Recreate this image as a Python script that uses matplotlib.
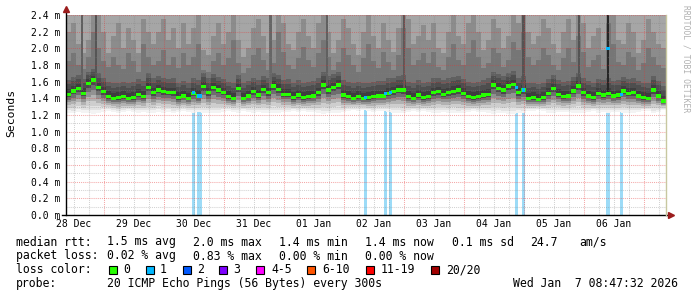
import numpy as np
import matplotlib.pyplot as plt
from matplotlib.patches import Rectangle

plt.rcParams['font.family'] = ['DejaVu Sans Mono', 'DejaVu Sans']

W, H = 697, 297

# x axis in hours after 28 Dec 00:00; the graph covers 10 days ending Jan 7 08:47:32
T_START = 8 + 47.5 / 60
T_END = T_START + 240
BIN_H = 2.0

# median rtt per 2 h bin (ms)
median_ms = [
    1.45, 1.49, 1.52, 1.46, 1.58, 1.62, 1.53, 1.48, 1.42, 1.40, 1.41, 1.42,
    1.40, 1.41, 1.45, 1.42, 1.53, 1.47, 1.50, 1.48, 1.47, 1.47, 1.41, 1.43,
    1.40, 1.46, 1.43, 1.54, 1.47, 1.53, 1.50, 1.47, 1.42, 1.40, 1.52, 1.40,
    1.43, 1.48, 1.44, 1.51, 1.47, 1.55, 1.51, 1.45, 1.45, 1.41, 1.44, 1.41,
    1.42, 1.43, 1.47, 1.56, 1.50, 1.53, 1.56, 1.44, 1.42, 1.40, 1.42, 1.40,
    1.41, 1.42, 1.43, 1.43, 1.46, 1.48, 1.50, 1.50, 1.42, 1.40, 1.44, 1.41,
    1.42, 1.47, 1.48, 1.45, 1.47, 1.48, 1.50, 1.46, 1.42, 1.41, 1.42, 1.44,
    1.45, 1.56, 1.52, 1.50, 1.55, 1.57, 1.47, 1.50, 1.40, 1.41, 1.39, 1.41,
    1.46, 1.52, 1.45, 1.42, 1.43, 1.49, 1.55, 1.47, 1.43, 1.41, 1.46, 1.44,
    1.46, 1.43, 1.44, 1.49, 1.46, 1.47, 1.43, 1.41, 1.40, 1.50, 1.43, 1.37,
]

# smoke: lowest ping, top of dark core, top of mid grey, top of grey (ms)
smoke_lo = [
    1.23, 1.22, 1.24, 1.23, 1.22, 1.21, 1.23, 1.24, 1.25, 1.24, 1.23, 1.24,
    1.25, 1.24, 1.23, 1.24, 1.22, 1.23, 1.24, 1.23, 1.24, 1.22, 1.24, 1.25,
    1.24, 1.23, 1.24, 1.22, 1.23, 1.22, 1.23, 1.24, 1.25, 1.24, 1.22, 1.25,
    1.24, 1.23, 1.24, 1.22, 1.23, 1.22, 1.23, 1.24, 1.24, 1.25, 1.24, 1.25,
    1.24, 1.24, 1.23, 1.21, 1.22, 1.22, 1.22, 1.24, 1.25, 1.26, 1.25, 1.26,
    1.25, 1.24, 1.25, 1.25, 1.24, 1.23, 1.23, 1.22, 1.24, 1.25, 1.24, 1.25,
    1.24, 1.23, 1.23, 1.24, 1.23, 1.23, 1.22, 1.23, 1.24, 1.25, 1.24, 1.24,
    1.23, 1.21, 1.22, 1.22, 1.21, 1.21, 1.23, 1.22, 1.25, 1.25, 1.26, 1.25,
    1.23, 1.22, 1.24, 1.24, 1.24, 1.23, 1.22, 1.23, 1.24, 1.25, 1.23, 1.24,
    1.23, 1.24, 1.24, 1.23, 1.23, 1.23, 1.24, 1.25, 1.25, 1.22, 1.24, 1.26,
]
smoke_hi1 = [
    1.62, 1.66, 1.68, 1.63, 1.72, 1.75, 1.70, 1.64, 1.60, 1.58, 1.59, 1.60,
    1.58, 1.60, 1.63, 1.61, 1.70, 1.64, 1.67, 1.65, 1.63, 1.64, 1.59, 1.61,
    1.58, 1.64, 1.62, 1.70, 1.64, 1.69, 1.66, 1.63, 1.60, 1.58, 1.68, 1.58,
    1.61, 1.65, 1.62, 1.67, 1.64, 1.71, 1.68, 1.62, 1.63, 1.59, 1.62, 1.59,
    1.60, 1.61, 1.64, 1.72, 1.67, 1.69, 1.72, 1.62, 1.60, 1.58, 1.60, 1.58,
    1.59, 1.60, 1.61, 1.61, 1.64, 1.65, 1.67, 1.68, 1.60, 1.58, 1.62, 1.59,
    1.60, 1.64, 1.65, 1.62, 1.64, 1.66, 1.67, 1.63, 1.60, 1.59, 1.60, 1.62,
    1.64, 1.72, 1.69, 1.67, 1.71, 1.73, 1.64, 1.67, 1.58, 1.59, 1.57, 1.59,
    1.63, 1.68, 1.62, 1.60, 1.61, 1.66, 1.71, 1.64, 1.61, 1.59, 1.63, 1.62,
    1.64, 1.61, 1.62, 1.66, 1.63, 1.64, 1.61, 1.59, 1.58, 1.67, 1.61, 1.55,
]
smoke_hi2 = [
    1.85, 1.95, 1.80, 1.75, 1.90, 2.20, 2.00, 1.85, 1.78, 1.90, 1.80, 1.75,
    1.95, 1.85, 1.72, 2.05, 1.90, 1.80, 1.85, 1.98, 1.80, 1.90, 1.76, 1.95,
    1.80, 1.90, 2.05, 1.74, 1.72, 1.85, 1.95, 1.80, 1.88, 2.10, 1.82, 1.70,
    1.76, 1.92, 2.00, 1.86, 1.74, 1.82, 2.20, 1.96, 1.80, 1.75, 1.88, 2.02,
    1.86, 1.78, 1.95, 2.10, 1.90, 1.74, 1.84, 2.00, 1.92, 1.80, 1.72, 1.88,
    2.05, 1.85, 1.76, 1.96, 1.84, 1.74, 1.92, 2.25, 2.00, 1.80, 1.86, 1.94,
    1.82, 1.96, 1.78, 1.74, 1.90, 2.05, 1.86, 1.80, 1.95, 2.10, 1.90, 1.76,
    1.82, 2.00, 1.94, 1.78, 1.86, 2.08, 1.98, 2.20, 1.90, 1.80, 1.86, 2.00,
    1.92, 1.80, 1.74, 1.88, 2.00, 1.84, 2.15, 1.96, 1.78, 1.86, 1.92, 1.75,
    2.30, 2.05, 1.84, 1.80, 1.96, 1.90, 1.74, 1.82, 2.00, 1.90, 1.80, 1.76,
]
smoke_hi3 = [
    2.20, 2.30, 2.05, 1.95, 2.10, 2.50, 2.45, 2.20, 1.95, 2.15, 2.30, 2.00,
    2.25, 2.10, 1.95, 2.35, 2.20, 2.05, 2.20, 2.35, 2.10, 2.25, 2.00, 2.30,
    2.05, 2.25, 2.40, 1.98, 1.92, 2.15, 2.30, 2.05, 2.20, 2.45, 2.10, 1.90,
    2.00, 2.25, 2.35, 2.15, 1.95, 2.10, 2.50, 2.30, 2.05, 1.98, 2.20, 2.35,
    2.15, 2.00, 2.30, 2.45, 2.20, 1.95, 2.10, 2.35, 2.25, 2.05, 1.92, 2.20,
    2.40, 2.15, 2.00, 2.30, 2.10, 1.96, 2.25, 2.50, 2.35, 2.05, 2.15, 2.28,
    2.10, 2.30, 2.00, 1.95, 2.20, 2.40, 2.15, 2.05, 2.30, 2.45, 2.20, 1.98,
    2.10, 2.35, 2.25, 2.00, 2.15, 2.40, 2.30, 2.50, 2.20, 2.05, 2.15, 2.35,
    2.25, 2.05, 1.95, 2.20, 2.35, 2.10, 2.45, 2.30, 2.00, 2.15, 2.25, 1.98,
    2.50, 2.40, 2.10, 2.05, 2.30, 2.20, 1.95, 2.10, 2.35, 2.20, 2.05, 2.00,
]

# narrow dark smoke columns (hours after graph start)
dark_at = [6.4, 12.0, 81.8, 104.4, 135.2, 183.0, 205.2, 216.8]
dark_from = [1.50, 1.55, 1.52, 1.55, 1.48, 1.50, 1.50, 1.45]
dark_color = ['#606060', '#555555', '#666666', '#606060', '#5a5a5a',
              '#545454', '#545454', '#262626']

# hours with 1/20 packet loss (hours after graph start)
loss_at = [51.0, 53.4, 120.0, 128.0, 129.8, 180.0, 183.0, 216.8, 222.0]
loss_dur = [1.3, 2.0, 1.2, 1.2, 1.3, 1.2, 1.4, 1.5, 1.2]
loss_median = [1.47, 1.43, 1.41, 1.46, 1.47, 1.53, 1.50, 2.00, 1.45]

day_labels = ['28 Dec', '29 Dec', '30 Dec', '31 Dec', '01 Jan',
              '02 Jan', '03 Jan', '04 Jan', '05 Jan', '06 Jan']
y_ticks = [0.0, 0.2, 0.4, 0.6, 0.8, 1.0, 1.2, 1.4, 1.6, 1.8, 2.0, 2.2, 2.4]

loss_names = ['0', '1', '2', '3', '4-5', '6-10', '11-19', '20/20']
loss_colors = ['#26ff00', '#00b8ff', '#0059ff', '#7e00ff',
               '#ff00ff', '#ff5500', '#ff0000', '#a10000']


def fx(px):
    return px / W


def fy(py):
    return 1 - py / H


fig = plt.figure(figsize=(W / 100, H / 100), dpi=100)
fig.patch.set_facecolor('white')
ax = fig.add_axes([fx(66), fy(215), 600 / W, 200 / H])
ax.set_xlim(T_START, T_END)
ax.set_ylim(0, 2.4)
for s in ax.spines.values():
    s.set_visible(False)

med = np.array(median_ms)
lo = np.array(smoke_lo)
hi1 = np.array(smoke_hi1)
edges = T_START + BIN_H * np.arange(len(med) + 1)


def band(y1, y2, color, z=2):
    y1 = np.append(y1, y1[-1])
    y2 = np.append(y2, y2[-1])
    ax.fill_between(edges, y1, y2, step='post', color=color, lw=0,
                    antialiased=False, zorder=z)


# loss background bars
ax.bar(T_START + np.array(loss_at), 2.4, width=loss_dur, color='#9cdbf7',
       lw=0, antialiased=False, zorder=1)

# lower half of the smoke: shading from lowest ping up to the median
fracs = [0.0, 0.12, 0.25, 0.4, 0.55, 0.7, 0.85, 1.0]
low_cols = ['#f3f3f3', '#e3e3e3', '#cecece', '#b2b2b2', '#929292',
            '#6e6e6e', '#4a4a4a']
for i, c in enumerate(low_cols):
    band(lo + fracs[i] * (med - lo), lo + fracs[i + 1] * (med - lo), c)

# upper half of the smoke
up_fracs = [0.0, 0.35, 0.7, 1.0]
up_cols = ['#3e3e3e', '#4e4e4e', '#606060']
for i, c in enumerate(up_cols):
    band(med + up_fracs[i] * (hi1 - med), med + up_fracs[i + 1] * (hi1 - med), c)
band(hi1, np.array(smoke_hi2), '#767676')
band(np.array(smoke_hi2), np.array(smoke_hi3), '#8c8c8c')
band(np.array(smoke_hi3), np.full(len(med), 2.5), '#a6a6a6')

for h, y0, c in zip(dark_at, dark_from, dark_color):
    ax.bar(T_START + h, 2.5 - y0, bottom=y0, width=1.0, color=c, lw=0,
           antialiased=False, zorder=2.5)

# grid, drawn over the smoke
minor_c = (0.5, 0.5, 0.5, 0.35)
major_c = (0.9, 0.2, 0.2, 0.42)
dots = (0, (1, 1))
for v in np.arange(0.1, 2.41, 0.1):
    major = abs(v / 0.2 - round(v / 0.2)) < 1e-6
    ax.axhline(v, color=major_c if major else minor_c, lw=0.75, ls=dots,
               zorder=3)
for h in range(12, 249, 6):
    ax.axvline(h, color=major_c if h % 24 == 0 else minor_c, lw=0.75,
               ls=dots, zorder=3)

# median rtt, coloured by loss
band(med - 0.02, med + 0.02, loss_colors[0], z=4)
for h, d, m in zip(loss_at, loss_dur, loss_median):
    ax.bar(T_START + h, 0.04, bottom=m - 0.02, width=d, color=loss_colors[1],
           lw=0, antialiased=False, zorder=4.5)

# axes, arrows
ax.plot([-0.006, 1.006], [0, 0], color='black', lw=1, transform=ax.transAxes,
        clip_on=False, zorder=6)
ax.plot([0, 0], [0, 1.02], color='black', lw=1, transform=ax.transAxes,
        clip_on=False, zorder=6)
ax.plot([1, 1], [0, 1], color='#c8c8a0', lw=1, transform=ax.transAxes,
        clip_on=False, zorder=6)
ax.plot(1.008, 0, marker='>', ms=4.5, color='#9b1c1c', mec='#9b1c1c',
        transform=ax.transAxes, clip_on=False, zorder=7)
ax.plot(0, 1.03, marker='^', ms=4.5, color='#9b1c1c', mec='#9b1c1c',
        transform=ax.transAxes, clip_on=False, zorder=7)

ax.set_yticks(y_ticks)
ax.set_yticklabels(['%.1f m' % v for v in y_ticks])
ax.set_xticks([12 + 24 * i for i in range(len(day_labels))])
ax.set_xticklabels(day_labels)
ax.tick_params(axis='y', length=0, labelsize=7, pad=4.3)
ax.tick_params(axis='x', length=0, labelsize=7, pad=3)

fig.text(fx(11), fy(113), 'Seconds', rotation=90, ha='center', va='center',
         fontsize=8.2)
fig.text(fx(686), fy(59), 'RRDTOOL / TOBI OETIKER', rotation=270,
         ha='center', va='center', fontsize=5.8, color='#b0b0b0')

# legend block
fs = 8.3
rows = [
    (245.5, [(16, 'median rtt:'), (107, '1.5 ms avg'), (193, '2.0 ms max'),
             (279, '1.4 ms min'), (365, '1.4 ms now'), (452, '0.1 ms sd'),
             (530, '24.7'), (579, 'am/s')]),
    (259.5, [(16, 'packet loss:'), (107, '0.02 % avg'), (193, '0.83 % max'),
             (279, '0.00 % min'), (365, '0.00 % now')]),
    (273.2, [(16, 'loss color:')]),
    (286.8, [(16, 'probe:'), (107, '20 ICMP Echo Pings (56 Bytes) every 300s'),
             (513, 'Wed Jan  7 08:47:32 2026')]),
]
for yb, items in rows:
    for xp, s in items:
        fig.text(fx(xp), fy(yb), s, fontsize=fs, va='baseline', ha='left')

sw_x = [109, 146, 183, 219, 256, 307, 366, 431]
lab_x = [123, 160, 197, 233, 271, 322, 381, 446]
for sx, lx, name, c in zip(sw_x, lab_x, loss_names, loss_colors):
    fig.add_artist(Rectangle((fx(sx), fy(273.5)), 8 / W, 8 / H,
                             transform=fig.transFigure, facecolor=c,
                             edgecolor='black', lw=0.8))
    fig.text(fx(lx), fy(273.2), name, fontsize=fs, va='baseline', ha='left')

fig.savefig('out.png', dpi=100, facecolor='white')
